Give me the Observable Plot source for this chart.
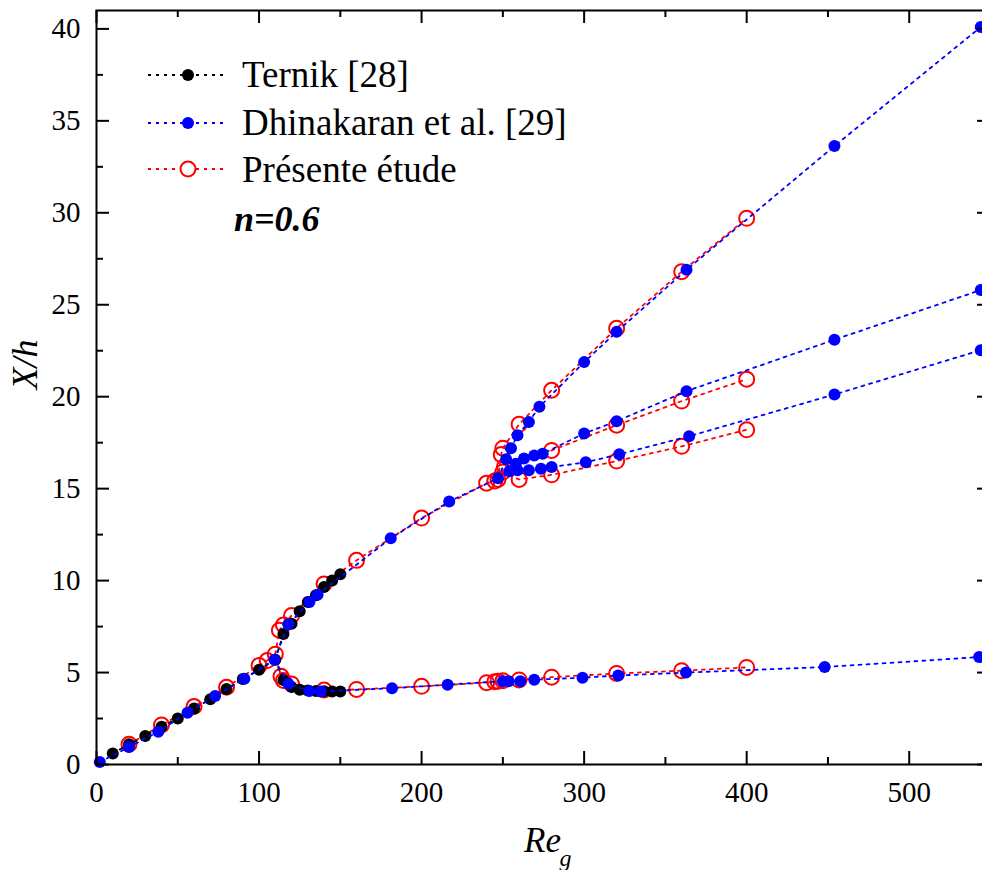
<!DOCTYPE html>
<html><head><meta charset="utf-8">
<script src="https://cdn.jsdelivr.net/npm/d3@7"></script>
<script src="https://cdn.jsdelivr.net/npm/@observablehq/plot@0.6"></script>
<style>
html,body{margin:0;padding:0;background:#fff;overflow:hidden}
#wrap{position:relative;width:982px;height:870px;overflow:hidden}
#wrap svg{max-width:none}
#wrap svg, #wrap svg text{font-family:"Liberation Serif","Times New Roman",Times,"DejaVu Serif",serif !important}
#legend{position:absolute;left:0;top:0}
</style></head><body><div id="wrap"></div>
<script>
// ---- Data (Re_g, X/h) ----
const ternikBase  = [[10,0.6],[20,1.1],[30,1.55],[40,2.05],[50,2.5],[60,3.05],[70,3.55],[80,4.1],[90,4.65],[100,5.15],[110,5.7]];
const ternikUpper = [[115,7.1],[120,7.65],[125,8.33],[130,8.83],[135,9.2],[140,9.65],[145,10.0],[150,10.35]];
const ternikLower = [[115,4.6],[120,4.22],[125,4.07],[130,4.02],[135,4.0],[140,3.98],[145,3.97],[150,3.97]];

const dhinaBase   = [[2,0.13],[20,0.95],[38,1.78],[56,2.82],[73,3.72],[91,4.66],[109.5,5.7]];
const dhinaUpper  = [[118,7.62],[131,8.83],[136,9.23],[181,12.3],[217,14.3],[247,15.56]];
const dhinaTop    = [[252,16.6],[255,17.2],[259,17.9],[266,18.63],[272.5,19.45],[300,21.88],[320,23.53],[363,26.9],[454,33.63],[544,40.1]];
const dhinaMid    = [[254,15.95],[258,16.35],[263,16.64],[269.3,16.8],[274.5,16.9],[300,18.0],[320,18.67],[363,20.3],[454,23.1],[544,25.8]];
const dhinaLowMid = [[259,16.0],[266,16.0],[273.4,16.08],[280,16.18],[301,16.43],[321.6,16.87],[364.6,17.85],[454,20.12],[544,22.53]];
const dhinaLower  = [[118,4.39],[131,3.99],[138,3.97],[181.8,4.15],[216,4.34],[250,4.53],[253.6,4.53],[260.7,4.53],[269.3,4.61],[299,4.72],[321,4.84],[362.7,5.0],[448,5.3],[543,5.84]];

const presBase    = [[20,1.1],[40,2.15],[60,3.15],[80,4.2],[100,5.38],[105,5.65],[110,6.0]];
const presUpper   = [[112.5,7.3],[115,7.58],[120,8.1],[140,9.82],[160,11.1],[200,13.4],[240,15.3],[245,15.42],[247,15.5]];
const presTop     = [[249,16.85],[250,17.2],[260,18.5],[280,20.35],[320,23.72],[360,26.8],[400,29.7]];
const presMid     = [[251,16.2],[280,17.08],[320,18.45],[360,19.76],[400,20.95]];
const presLowMid  = [[250,15.9],[260,15.5],[280,15.75],[320,16.5],[360,17.3],[400,18.2]];
const presLower   = [[113.5,4.8],[115,4.57],[120,4.38],[140,4.05],[160,4.08],[200,4.25],[240,4.45],[245,4.5],[247,4.53],[250,4.55],[260,4.6],[280,4.75],[320,4.95],[360,5.1],[400,5.28]];

const xMajor = [0,100,200,300,400,500];
const xMinor = [50,150,250,350,450,550];
const yMajor = [0,5,10,15,20,25,30,35,40];
const yMinor = [2.5,7.5,12.5,17.5,22.5,27.5,32.5,37.5];

const seriesNames = ["Ternik [28]","Dhinakaran et al. [29]","Présente étude"];

// ---- build tables ----
function lineRows(name, base, branches) {
  const rows = [];
  base.forEach(([x,y]) => rows.push({name, seg:"base", x, y}));
  const last = base[base.length-1];
  branches.forEach((b, i) => {
    const start = b.from || last;
    rows.push({name, seg:"b"+i, x:start[0], y:start[1]});
    b.pts.forEach(([x,y]) => rows.push({name, seg:"b"+i, x, y}));
  });
  return rows;
}
function dotRows(name, arrays) {
  return arrays.flat().map(([x,y]) => ({name, x, y}));
}
const dUp = dhinaUpper, pUp = presUpper;
const ternikLines = lineRows(seriesNames[0], ternikBase, [{pts:ternikUpper},{pts:ternikLower}]);
const dhinaLines = lineRows(seriesNames[1], dhinaBase, [
  {pts:dhinaUpper},{pts:dhinaLower},
  {pts:dhinaTop, from:dUp[dUp.length-1]},{pts:dhinaMid, from:dUp[dUp.length-1]},{pts:dhinaLowMid, from:dUp[dUp.length-1]}]);
const presLines = lineRows(seriesNames[2], presBase, [
  {pts:presUpper},{pts:presLower},
  {pts:presTop, from:pUp[pUp.length-1]},{pts:presMid, from:pUp[pUp.length-1]},{pts:presLowMid, from:pUp[pUp.length-1]}]);
const ternikDots = dotRows(seriesNames[0], [ternikBase, ternikUpper, ternikLower]);
const dhinaDots = dotRows(seriesNames[1], [dhinaBase, dhinaUpper, dhinaTop, dhinaMid, dhinaLowMid, dhinaLower]);
const presDots = dotRows(seriesNames[2], [presBase, presUpper, presTop, presMid, presLowMid, presLower]);

const W = 990, H = 870, mL = 96, mR = 0, mT = 10, mB = 106;
const innerH = H - mT - mB, innerW = W - mL - mR;
const dash = "3,5";
const font = "Liberation Serif, Times New Roman, Times, serif";

const chart = Plot.plot({
  width: W, height: H,
  marginLeft: mL, marginRight: mR, marginTop: mT, marginBottom: mB,
  style: {fontFamily: font, fontSize: "29px", color: "#000", background: "#fff", maxWidth: "none", overflow: "visible"},
  x: {domain: [0, 550], label: null},
  y: {domain: [0, 41], label: null},
  marks: [
    Plot.line(presLines, {x:"x", y:"y", z:"seg", stroke:"#ff0000", strokeWidth:1.8, strokeDasharray:dash}),
    Plot.dot(presDots, {x:"x", y:"y", r:7.5, stroke:"#ff0000", strokeWidth:2, fill:"none"}),
    Plot.line(ternikLines, {x:"x", y:"y", z:"seg", stroke:"#000", strokeWidth:1.8, strokeDasharray:dash}),
    Plot.dot(ternikDots, {x:"x", y:"y", r:6, fill:"#000"}),
    Plot.line(dhinaLines, {x:"x", y:"y", z:"seg", stroke:"#0000ff", strokeWidth:1.8, strokeDasharray:dash}),
    Plot.dot(dhinaDots, {x:"x", y:"y", r:6, fill:"#0000ff"}),
    Plot.frame({stroke:"#000", strokeWidth:2}),
    Plot.tickX(xMajor, {x:d=>d, insetTop: innerH-13, strokeWidth:2}),
    Plot.tickX(xMajor, {x:d=>d, insetBottom: innerH-13, strokeWidth:2}),
    Plot.tickX(xMinor, {x:d=>d, insetTop: innerH-7, strokeWidth:2}),
    Plot.tickX(xMinor, {x:d=>d, insetBottom: innerH-7, strokeWidth:2}),
    Plot.tickY(yMajor, {y:d=>d, insetRight: innerW-13, strokeWidth:2}),
    Plot.tickY(yMajor, {y:d=>d, insetLeft: innerW-13, strokeWidth:2}),
    Plot.tickY(yMinor, {y:d=>d, insetRight: innerW-7, strokeWidth:2}),
    Plot.tickY(yMinor, {y:d=>d, insetLeft: innerW-7, strokeWidth:2}),
    Plot.axisX(xMajor, {tickSize:0, tickPadding:17, fontSize:29}),
    Plot.axisY(yMajor, {tickSize:0, tickPadding:16, fontSize:29}),
    Plot.text(["Re"], {frameAnchor:"bottom", dx:-1, dy:76, fontStyle:"italic", fontSize:35, lineAnchor:"middle"}),
    Plot.text(["g"], {frameAnchor:"bottom", dx:22, dy:94, fontStyle:"italic", fontSize:24, lineAnchor:"middle"}),
    Plot.text(["X/h"], {frameAnchor:"left", rotate:-90, dx:-71, dy:2, fontStyle:"italic", fontSize:36, lineAnchor:"middle"})
  ]
});
document.getElementById("wrap").appendChild(chart);

// ---- legend overlay ----
const legendRows = [
  {label: seriesNames[0], color:"#000", fill:"#000", r:6, cy:75, base:87},
  {label: seriesNames[1], color:"#0000ff", fill:"#0000ff", r:6, cy:123, base:135},
  {label: seriesNames[2], color:"#ff0000", fill:"#fff", r:7.5, cy:169, base:182}
];
const leg = d3.create("svg").attr("id","legend").attr("width",982).attr("height",260);
legendRows.forEach(d => {
  leg.append("line").attr("x1",148).attr("x2",228).attr("y1",d.cy).attr("y2",d.cy)
    .attr("stroke",d.color).attr("stroke-width",1.8).attr("stroke-dasharray",dash);
  leg.append("circle").attr("cx",188).attr("cy",d.cy).attr("r",d.r)
    .attr("fill",d.fill).attr("stroke",d.fill==="#fff"?d.color:"none").attr("stroke-width",2);
  leg.append("text").attr("x",242).attr("y",d.base).attr("font-size",37).attr("fill","#000").text(d.label);
});
leg.append("text").attr("x",234).attr("y",231).attr("font-size",36).attr("font-weight","bold")
  .attr("font-style","italic").attr("fill","#000").text("n=0.6");
document.getElementById("wrap").appendChild(leg.node());
</script></body></html>
